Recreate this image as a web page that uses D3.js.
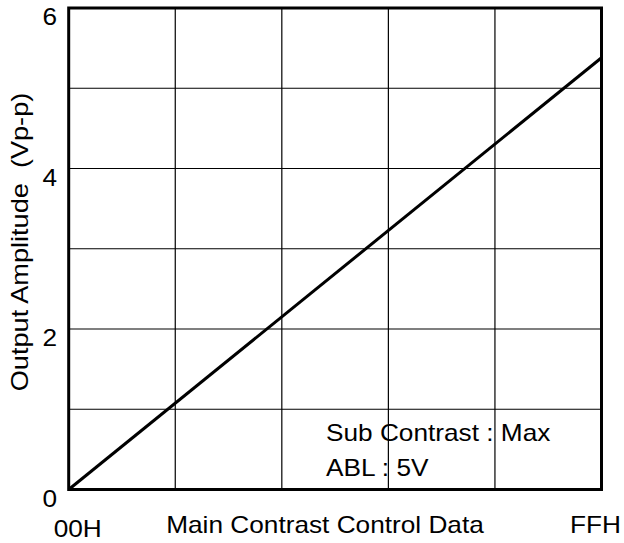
<!DOCTYPE html>
<html>
<head>
<meta charset="utf-8">
<script src="https://cdn.jsdelivr.net/npm/d3@7"></script>
<style>
  body { margin: 0; background: #fff; }
  svg text { font-family: "Liberation Sans", Arial, sans-serif; fill: #000; font-size: 23px; white-space: pre; }
</style>
</head>
<body>
<svg id="chart" width="624" height="543"></svg>
<script>
// data
const xDomain = [0, 255];
const yTicks = [0, 2, 4, 6];
const yGrid = [1, 2, 3, 4, 5];
const xGrid = [51, 102, 153, 204];
const xTickLabels = ["00H", "FFH"];
const lineX = [0, 255];
const lineY = [0, 5.38];
const notes = ["Sub Contrast : Max", "ABL : 5V"];

const svg = d3.select("#chart");
const plotL = 68.7, plotR = 601.5, plotT = 8, plotB = 489.5;

const x = d3.scaleLinear().domain(xDomain).range([plotL, plotR]);
const y = d3.scaleLinear().domain([0, 6]).range([plotB, plotT]);

// the original lettering is wider than Arial, so stretch it a bit
function label(px, py, txt, anchor, rot, sx) {
    return svg.append("text")
        .attr("transform", "translate(" + px + "," + py + ")" + (rot ? " rotate(" + rot + ")" : "") + " scale(" + (sx || 1.14) + ",1)")
        .attr("text-anchor", anchor || "start")
        .text(txt);
}

// grid
svg.append("g").selectAll("line").data(xGrid).join("line")
    .attr("x1", d => x(d)).attr("x2", d => x(d))
    .attr("y1", plotT).attr("y2", plotB)
    .attr("stroke", "#000").attr("stroke-width", 1.2);
svg.append("g").selectAll("line").data(yGrid).join("line")
    .attr("x1", plotL).attr("x2", plotR)
    .attr("y1", d => y(d)).attr("y2", d => y(d))
    .attr("stroke", "#000").attr("stroke-width", 1.2);

// data line
const data = lineX.map((v, i) => ({x: v, y: lineY[i]}));
svg.append("path")
    .datum(data)
    .attr("fill", "none").attr("stroke", "#000").attr("stroke-width", 3)
    .attr("d", d3.line().x(d => x(d.x)).y(d => y(d.y)));

// frame
svg.append("rect")
    .attr("x", plotL).attr("y", plotT)
    .attr("width", plotR - plotL).attr("height", plotB - plotT)
    .attr("fill", "none").attr("stroke", "#000").attr("stroke-width", 3);

// y tick labels
yTicks.forEach(d => label(57, y(d) + 17, d, "end"));

// x labels
label(x(0) + 9, 537, xTickLabels[0], "middle");
label(621, 533, xTickLabels[1], "end");
label(325, 533, "Main Contrast Control Data", "middle");

label(28, 242, "Output Amplitude  (Vp-p)", "middle", -90, 1.18);

// annotation
notes.forEach((d, i) => label(326, 441 + i * 35, d));
</script>
</body>
</html>
